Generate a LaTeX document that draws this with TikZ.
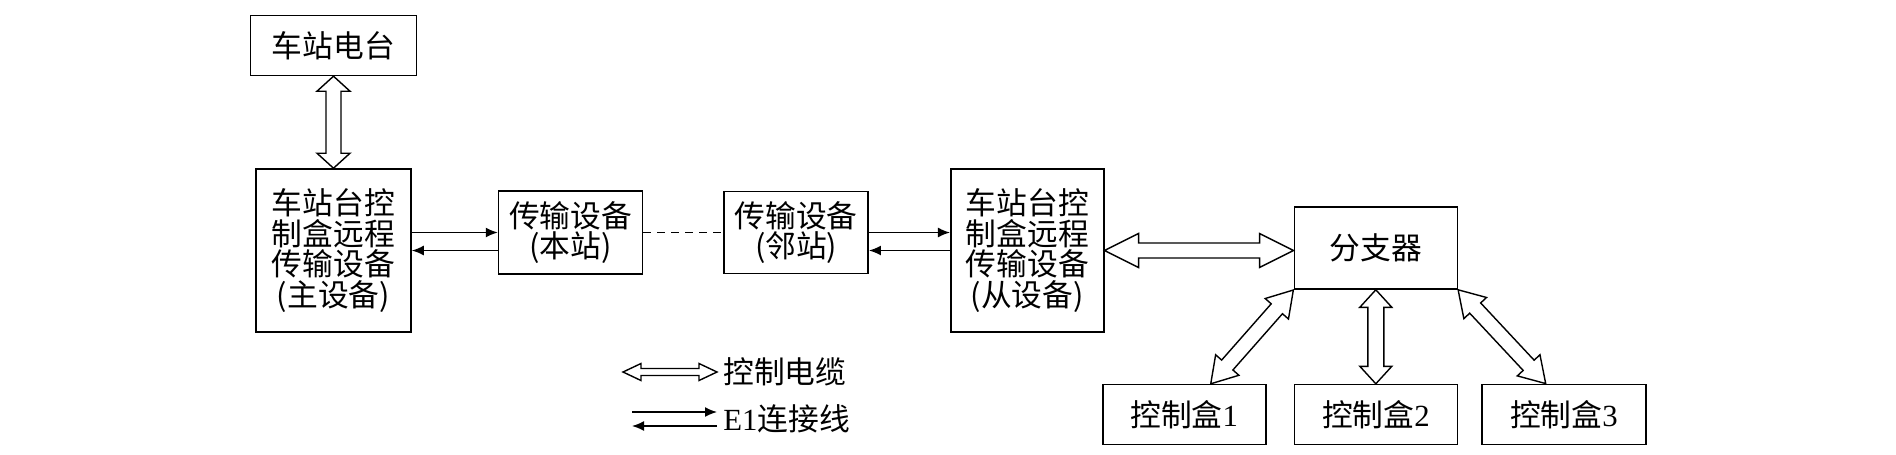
\documentclass[tikz,border=0pt]{standalone}
\usepackage{fontspec}
\setmainfont{Liberation Serif}
\newfontfamily\cjk{Noto Sans CJK SC}
\usetikzlibrary{arrows.meta, positioning}
\tikzset{
    boxnode/.style={rectangle, draw=black, line width=0.9pt, inner sep=0pt, align=center, font=\cjk\fontsize{17.5pt}{17.5pt}\selectfont},
    myarrow/.style={-{Latex[length=0.24cm, width=0.2cm]}, line width=0.9pt},
    mydash/.style={dash pattern=on 0.16cm off 0.12cm, line width=0.9pt},
    hollowarrow/.style={draw=black, fill=white, line width=0.8pt, line join=miter},
    mylabel/.style={inner sep=0pt, anchor=west, font=\cjk\fontsize{17.5pt}{17.5pt}\selectfont}
}
% hollow double arrow: from, to, head length, head half width, shaft half width
\newcommand{\dblarrow}[5]{%
    \path (#1); \pgfgetlastxy{\ax}{\ay}%
    \path (#2); \pgfgetlastxy{\bx}{\by}%
    \pgfmathsetmacro{\ang}{atan2(\by-\ay,\bx-\ax)}%
    \pgfmathsetmacro{\len}{veclen(\bx-\ax,\by-\ay)}%
    \draw[hollowarrow, shift={(\ax,\ay)}, rotate=\ang]
        (0,0) -- (#3cm,#4cm) -- (#3cm,#5cm) -- ({\len pt-#3cm},#5cm) -- ({\len pt-#3cm},#4cm)
        -- (\len pt,0) -- ({\len pt-#3cm},-#4cm) -- ({\len pt-#3cm},-#5cm) -- (#3cm,-#5cm)
        -- (#3cm,-#4cm) -- cycle;%
}

\begin{document}
\begin{tikzpicture}[node distance=1cm, auto]

    \useasboundingbox (0,0) rectangle (37.92,-9.08);

        % ------------------
        % nodes
        % ------------------

        \node[boxnode, minimum width=3.1cm, minimum height=3.26cm] (master) at (6.67,-5.01) {车站台控\\制盒远程\\传输设备\\(主设备)};
        \node[boxnode, minimum width=3.32cm, minimum height=1.2cm, above=1.84cm of master] (radio) {车站电台};

        \node[boxnode, minimum width=2.88cm, minimum height=1.66cm, right=1.72cm of master, yshift=0.36cm] (local) {传输设备\\(本站)};
        \node[boxnode, minimum width=2.88cm, minimum height=1.64cm, right=1.6cm of local] (neighbor) {传输设备\\(邻站)};
        \node[boxnode, minimum width=3.06cm, minimum height=3.26cm, right=1.62cm of neighbor, yshift=-0.36cm] (slave) {车站台控\\制盒远程\\传输设备\\(从设备)};

        \node[boxnode, minimum width=3.26cm, minimum height=1.64cm, right=3.78cm of slave, yshift=0.05cm] (splitter) {分支器};
        \node[boxnode, minimum width=3.26cm, minimum height=1.2cm, below=1.88cm of splitter] (ctrl2) {控制盒\textrm{2}};
        \node[boxnode, minimum width=3.26cm, minimum height=1.2cm, left=0.54cm of ctrl2] (ctrl1) {控制盒\textrm{1}};
        \node[boxnode, minimum width=3.28cm, minimum height=1.2cm, right=0.46cm of ctrl2] (ctrl3) {控制盒\textrm{3}};

        \node[mylabel] (cable) at (14.46,-7.44) {控制电缆};
        \node[mylabel] (eline) at (14.46,-8.38) {\textrm{E1}连接线};

        % ------------------
        % arrows
        % ------------------

        \dblarrow{radio.south}{master.north}{0.3}{0.33}{0.15}

        \draw[myarrow] (master.east |- local.west) -- (local.west);
        \draw[myarrow] (local.west |- master.east) -- (master.east);

        \draw[mydash] (local.east) -- (neighbor.west);

        \draw[myarrow] (neighbor.east) -- (neighbor.east -| slave.west);
        \draw[myarrow] (slave.west) -- (slave.west -| neighbor.east);

        \dblarrow{slave.east}{slave.east -| splitter.west}{0.68}{0.34}{0.15}

        \dblarrow{[xshift=0.53cm]ctrl1.north}{splitter.south west}{0.5}{0.31}{0.15}
        \dblarrow{splitter.south}{splitter.south |- ctrl2.north}{0.35}{0.32}{0.16}
        \dblarrow{splitter.south east}{[xshift=-0.36cm]ctrl3.north}{0.5}{0.31}{0.15}

        % legend
        \dblarrow{[xshift=-2.0cm]cable.west}{[xshift=-0.12cm]cable.west}{0.36}{0.17}{0.07}
        \draw[myarrow] ([xshift=-1.82cm, yshift=0.14cm]eline.west) -- ([xshift=-0.12cm, yshift=0.14cm]eline.west);
        \draw[myarrow] ([xshift=-0.12cm, yshift=-0.14cm]eline.west) -- ([xshift=-1.82cm, yshift=-0.14cm]eline.west);

\end{tikzpicture}
\end{document}
